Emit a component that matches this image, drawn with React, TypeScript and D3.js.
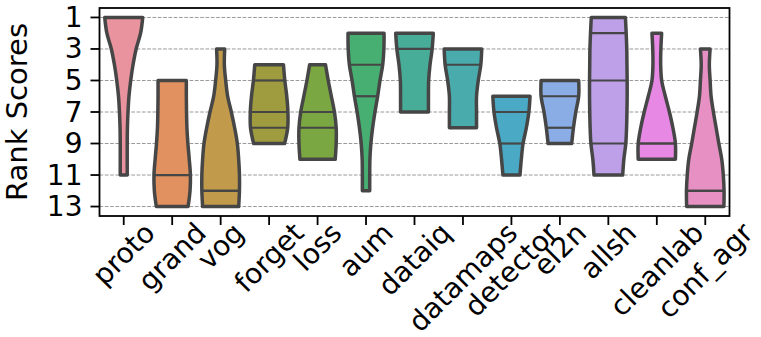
import React from "react";
import * as d3 from "d3";

// ---- data ----
const methods = ["proto", "grand", "vog", "forget", "loss", "aum", "dataiq", "datamaps", "detector", "el2n", "allsh", "cleanlab", "conf_agr"];

// lowest and highest rank reached by each method
const minRank = [1, 5, 3, 4, 4, 2, 2, 3, 6, 5, 1, 2, 3];
const maxRank = [11, 13, 13, 9, 10, 12, 7, 8, 11, 9, 11, 10, 13];

// relative violin half-width at each integer rank from minRank to maxRank
const profiles: number[][] = [
  [0.98, 0.87, 0.64, 0.48, 0.36, 0.27, 0.22, 0.19, 0.18, 0.18, 0.18],
  [0.73, 0.73, 0.74, 0.76, 0.81, 0.88, 0.94, 0.92, 0.82],
  [0.21, 0.19, 0.26, 0.36, 0.55, 0.72, 0.86, 0.93, 0.97, 0.97, 0.93],
  [0.74, 0.81, 0.91, 0.97, 0.96, 0.8],
  [0.41, 0.55, 0.71, 0.87, 0.96, 0.96, 0.91],
  [0.93, 0.92, 0.86, 0.72, 0.6, 0.46, 0.34, 0.25, 0.2, 0.19, 0.19],
  [0.97, 0.91, 0.8, 0.73, 0.72, 0.72],
  [0.97, 0.92, 0.79, 0.7, 0.7, 0.7],
  [0.96, 0.9, 0.77, 0.6, 0.51, 0.44],
  [0.97, 0.97, 0.82, 0.7, 0.61],
  [0.88, 0.92, 0.95, 0.96, 0.97, 0.97, 0.96, 0.94, 0.9, 0.8, 0.74],
  [0.25, 0.21, 0.2, 0.25, 0.44, 0.65, 0.83, 0.96, 0.96],
  [0.25, 0.21, 0.25, 0.3, 0.42, 0.56, 0.7, 0.85, 0.93, 0.97, 0.96],
];

// 25th, 50th, 75th percentiles
const quartiles: number[][] = [
  [1, 1, 1],
  [11, 13, 13],
  [12, 12, 13],
  [5, 7, 8],
  [7, 8, 10],
  [2, 4, 6],
  [2, 3, 7],
  [3, 4, 8],
  [7, 9, 11],
  [6, 8, 9],
  [2, 5, 9],
  [9, 9, 10],
  [12, 12, 13],
];

const yTicks = [1, 3, 5, 7, 9, 11, 13];

const palette = ["#e8939e", "#e0915f", "#c19b4b", "#9e9c3e", "#7aa741", "#47af72", "#47ad98", "#49abab", "#4aaac6", "#8aade6", "#bea0e8", "#e688e4", "#e790c3"];

// ---- layout ----
const W = 761, H = 337;
const X0 = 99.5, X1 = 729.5, Y0 = 8, Y1 = 216;
const FONT = '"DejaVu Sans", sans-serif';
const TICK_FS = 28;
const LABEL_FS = 29;
const EDGE = "#464646";

function measure(text: string, size: number) {
  const c = document.createElement("canvas").getContext("2d");
  if (!c) return text.length * size * 0.6;
  c.font = `${size}px "DejaVu Sans"`;
  return c.measureText(text).width;
}

export default function App() {
  const x = d3.scaleBand<string>().domain(methods).range([X0, X1]).padding(0);
  const y = d3.scaleLinear().domain([0.4, 13.6]).range([Y0, Y1]);
  const bw = x.bandwidth();
  const ws = d3.scaleLinear().domain([0, 1]).range([0, bw * 0.4]);

  type P = { v: number; w: number };

  const violins = methods.map((m, i) => {
    const cx = (x(m) as number) + bw / 2;
    const pts: P[] = profiles[i].map((w, k) => ({ v: minRank[i] + k, w }));
    const area = d3
      .area<P>()
      .y((p) => y(p.v))
      .x0((p) => cx - ws(p.w))
      .x1((p) => cx + ws(p.w))
      .curve(d3.curveCatmullRom);
    const widthAt = (q: number) => {
      const t = q - minRank[i];
      const k = Math.max(0, Math.min(profiles[i].length - 1, Math.floor(t)));
      const k2 = Math.min(profiles[i].length - 1, k + 1);
      const f = t - k;
      return profiles[i][k] * (1 - f) + profiles[i][k2] * f;
    };
    const qs = quartiles[i].filter((q) => q > minRank[i] && q < maxRank[i]);
    return { m, cx, d: area(pts) as string, qs, widthAt, color: palette[i] };
  });

  const labelTop = Y1 + 3;

  return (
    <svg width={W} height={H} style={{ position: "absolute", left: 0, top: 0, background: "#fff" }} fontFamily={FONT}>
      <rect x={0} y={0} width={W} height={H} fill="#fff" />
      {/* grid */}
      {yTicks.map((t) => (
        <line key={"g" + t} x1={X0} x2={X1} y1={y(t)} y2={y(t)} stroke="#9a9a9a" strokeWidth={1} strokeDasharray="3.7,1.6" />
      ))}
      {/* violins */}
      {violins.map((v) => (
        <g key={v.m}>
          <path d={v.d} fill={v.color} stroke={EDGE} strokeWidth={3.5} strokeLinejoin="round" />
          {v.qs.map((q, k) => {
            const hw = ws(v.widthAt(q));
            return <line key={k} x1={v.cx - hw} x2={v.cx + hw} y1={y(q)} y2={y(q)} stroke={EDGE} strokeWidth={2.2} />;
          })}
        </g>
      ))}
      {/* spines */}
      <rect x={X0} y={Y0} width={X1 - X0} height={Y1 - Y0} fill="none" stroke="#000" strokeWidth={1.8} />
      {/* y ticks */}
      {yTicks.map((t) => (
        <g key={"yt" + t}>
          <line x1={X0 - 9} x2={X0} y1={y(t)} y2={y(t)} stroke="#000" strokeWidth={1.8} />
          <text x={X0 - 17} y={y(t)} textAnchor="end" dominantBaseline="central" fontSize={TICK_FS} fill="#000">
            {t}
          </text>
        </g>
      ))}
      {/* x ticks */}
      {methods.map((m) => {
        const cx = (x(m) as number) + bw / 2;
        const L = measure(m, TICK_FS);
        const half = 0.7071 * (L + TICK_FS * 0.9) / 2;
        const cy = labelTop + half;
        return (
          <g key={"xt" + m}>
            <line x1={cx} x2={cx} y1={Y1} y2={Y1 + 9} stroke="#000" strokeWidth={1.8} />
            <text
              transform={`translate(${cx},${cy}) rotate(-45)`}
              textAnchor="middle"
              dominantBaseline="central"
              fontSize={TICK_FS}
              fill="#000"
            >
              {m}
            </text>
          </g>
        );
      })}
      {/* y label */}
      <text transform={`translate(${27},${(Y0 + Y1) / 2}) rotate(-90)`} textAnchor="middle" fontSize={LABEL_FS} fill="#000">
        Rank Scores
      </text>
    </svg>
  );
}
